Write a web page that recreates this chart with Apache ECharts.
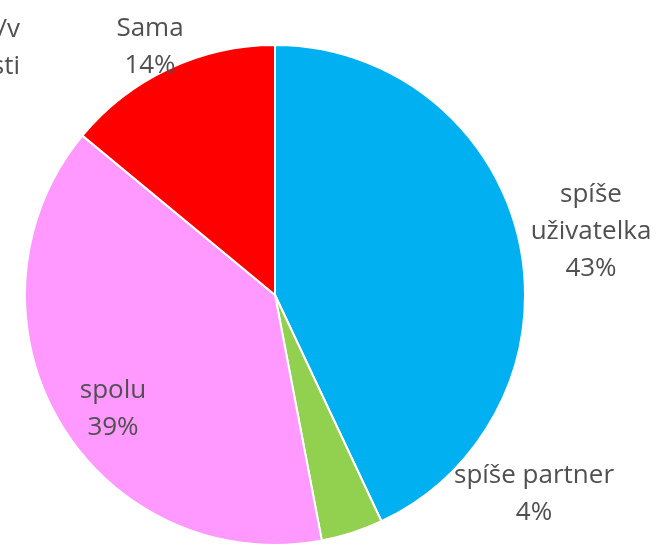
<!DOCTYPE html>
<html><head><meta charset="utf-8">
<script src="https://cdn.jsdelivr.net/npm/echarts@6/dist/echarts.min.js"></script>
<style>html,body{margin:0;padding:0;background:#fff}#c{width:657px;height:545px}</style>
</head><body><div id="c"></div>
<script>
const categories = ['spíše uživatelka', 'spíše partner', 'spolu', 'Sama'];
const values = [43, 4, 39, 14];
const colors = ['#00B0F0', '#92D050', '#FF99FF', '#FF0000'];
const cutLabelLines = ['Nevím/v', 'nepřítomnosti'];

const labelPos = [[591, 232], [534, 494], [113, 409], [150, 47]];
const font = '26px "Open Sans", sans-serif';

const chart = echarts.init(document.getElementById('c'));
chart.setOption({
  animation: false,
  graphic: cutLabelLines.map((t, i) => ({
    type: 'text', x: 20, y: 30 + i * 37,
    style: { text: t, fill: '#505050', font: font, align: 'right', verticalAlign: 'middle' }
  })),
  series: [{
    type: 'pie',
    center: [275, 295],
    radius: 250,
    startAngle: 90,
    clockwise: true,
    data: categories.map((n, i) => ({ name: n, value: values[i], itemStyle: { color: colors[i] } })),
    itemStyle: { borderColor: '#fff', borderWidth: 2 },
    label: {
      show: true,
      position: 'outside',
      formatter: p => p.name.replace('spíše uživatelka', 'spíše\nuživatelka') + '\n' + p.value + '%',
      color: '#505050',
      fontFamily: 'Open Sans',
      fontSize: 26,
      lineHeight: 37,
      align: 'center',
      overflow: 'none',
      width: 300
    },
    labelLine: { show: false },
    labelLayout: p => ({ x: labelPos[p.dataIndex][0], y: labelPos[p.dataIndex][1], align: 'center', verticalAlign: 'middle', hideOverlap: false })
  }]
});
</script></body></html>
